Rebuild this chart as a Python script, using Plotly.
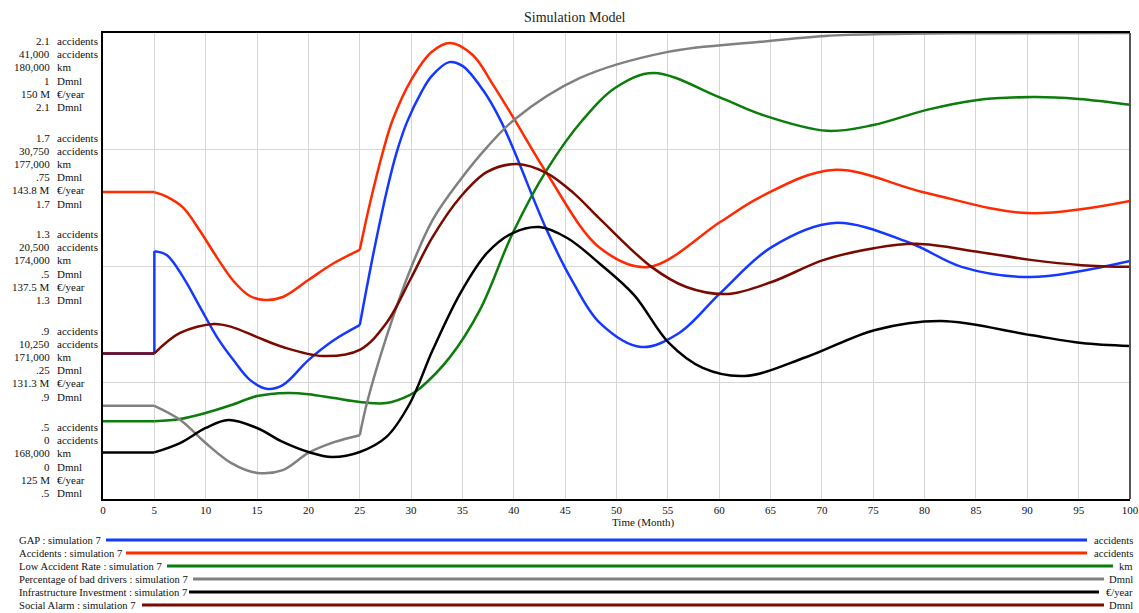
import plotly.graph_objects as go

# ---------------- data ----------------
x_ticks = list(range(0, 101, 5))

# GAP (accidents)
gap_t = [0, 5, 5, 6.2, 7.8, 9.45, 11.1, 12.7, 14.3, 16, 17.5, 20, 22.5, 25, 26.3, 27.7, 28.6, 29.6,
         31, 32, 33.7, 35, 37, 38.7, 40, 43.2, 45.8, 48.4, 52.4, 56.1, 60.1, 65.1, 71.2, 78.6, 83.6,
         90.3, 100]
gap_v = [1.0, 1.0, 1.351, 1.338, 1.262, 1.159, 1.056, 0.977, 0.909, 0.878, 0.891, 0.977, 1.046, 1.097,
         1.338, 1.568, 1.691, 1.794, 1.897, 1.952, 2.0, 1.987, 1.904, 1.801, 1.698, 1.424, 1.242,
         1.104, 1.022, 1.07, 1.207, 1.365, 1.448, 1.379, 1.297, 1.262, 1.317]

# Accidents (accidents)
acc_t = [0, 5, 6.2, 7.8, 9.45, 11.1, 12.7, 14.3, 15.8, 17.5, 20, 22.5, 25, 26, 27.3, 28.2, 30, 32,
         33.8, 36, 38, 40.1, 43.2, 48.4, 53.1, 60.1, 64, 71.1, 80.2, 90, 100]
acc_v = [27000, 27000, 26600, 25630, 23580, 21240, 19180, 17860, 17510, 17770, 19270, 20760, 21910,
         26040, 30700, 33340, 36860, 39330, 40120, 39060, 36420, 33340, 28680, 22080, 20410, 24370,
         26570, 28950, 26920, 25160, 26220]

# Low Accident Rate (km)
lar_t = [0, 5, 7.5, 10, 12.5, 15, 18, 20, 22.5, 25, 27.6, 29.9, 30.9, 33.8, 36.7, 39.9, 43.2, 46.7, 50,
         53.6, 60, 64, 70.5, 75, 80.2, 85, 90.6, 95, 100]
lar_v = [170000, 170000, 170060, 170215, 170420, 170650, 170730, 170700, 170600, 170500, 170470,
         170680, 170860, 171660, 172870, 174850, 176470, 177760, 178610, 178970, 178350, 177910,
         177480, 177630, 178020, 178270, 178350, 178300, 178150]

# Percentage of bad drivers (Dmnl)
pbd_t = [0, 5, 7.5, 10, 12.5, 15, 17.5, 20, 22.5, 25, 25.7, 27.6, 29.9, 32.1, 34.8, 37.4, 40.1, 46.4,
         54.9, 64, 70.3, 77, 85, 100]
pbd_v = [0.2, 0.2, 0.170, 0.120, 0.077, 0.056, 0.062, 0.099, 0.122, 0.137, 0.206, 0.348, 0.491, 0.599,
         0.685, 0.755, 0.815, 0.903, 0.959, 0.981, 0.9936, 0.998, 0.9994, 1.0]

# Infrastructure Investment (M €/year)
inf_t = [0, 5, 7.5, 10, 12.2, 15, 17.5, 20, 22.3, 25, 27.6, 29.9, 32.1, 34.8, 37.4, 39.9, 42.5, 45.2,
         48.4, 51.7, 55.1, 58.4, 62.5, 68.5, 75.2, 81.6, 90.3, 95.3, 100]
inf_v = [127.5, 127.5, 128.0, 128.81, 129.24, 128.81, 128.06, 127.52, 127.25, 127.52, 128.33, 130.15,
         132.99, 136.05, 138.20, 139.27, 139.59, 139.00, 137.61, 135.95, 133.37, 132.03, 131.60,
         132.62, 134.07, 134.55, 133.80, 133.37, 133.21]

# Social Alarm (Dmnl)
sa_t = [0, 5, 7.5, 10.8, 12.5, 15, 17.5, 21.4, 25, 27.6, 29.9, 32.1, 34.8, 37.4, 40.3, 43.2, 45.8, 48.4,
        53.4, 56.8, 60.8, 65.1, 70.2, 75.2, 79.2, 85.3, 90.3, 95.3, 100]
sa_v = [1.0, 1.0, 1.070, 1.101, 1.091, 1.056, 1.022, 0.991, 1.012, 1.104, 1.252, 1.400, 1.537, 1.623,
        1.650, 1.619, 1.551, 1.461, 1.297, 1.228, 1.204, 1.245, 1.321, 1.362, 1.376, 1.348, 1.321,
        1.303, 1.297]

# axis tick labels (top to bottom)
gap_ticks = ["2.1", "1.7", "1.3", ".9", ".5"]
acc_ticks = ["41,000", "30,750", "20,500", "10,250", "0"]
lar_ticks = ["180,000", "177,000", "174,000", "171,000", "168,000"]
pbd_ticks = ["1", ".75", ".5", ".25", "0"]
inf_ticks = ["150 M", "143.8 M", "137.5 M", "131.3 M", "125 M"]
sa_ticks = ["2.1", "1.7", "1.3", ".9", ".5"]

series_names = ["GAP", "Accidents", "Low Accident Rate", "Percentage of bad drivers",
                "Infrastructure Investment", "Social Alarm"]
series_units = ["accidents", "accidents", "km", "Dmnl", "€/year", "Dmnl"]
run_name = "simulation 7"

# ---------------- styling ----------------
FONT = "Liberation Serif"
colors = ["#1438ff", "#ff2a00", "#0a7d0a", "#808080", "#000000", "#7a0a00"]
ranges = [[0.5, 2.1], [0, 41000], [168000, 180000], [0, 1], [125, 150], [0.5, 2.1]]
data = [(gap_t, gap_v), (acc_t, acc_v), (lar_t, lar_v), (pbd_t, pbd_v), (inf_t, inf_v), (sa_t, sa_v)]
breaks = [[5, 25], [5, 25], [5], [5, 25], [5], [5]]
tick_sets = [gap_ticks, acc_ticks, lar_ticks, pbd_ticks, inf_ticks, sa_ticks]

W_FIG, H_FIG = 1139, 613
L, R, T, B = 103, 1130, 33, 499


def px_x(px):
    return (px - L) / (R - L)


def px_y(py):
    return (B - py) / (B - T)


fig = go.Figure()

for i, ((t, v), col, brk) in enumerate(zip(data, colors, breaks)):
    yref = "y" if i == 0 else f"y{i + 1}"
    # split into segments at kink points so the spline keeps the corners
    segs = []
    start = 0
    for j in range(1, len(t)):
        if t[j] in brk and j != len(t) - 1:
            segs.append((start, j))
            start = j
    segs.append((start, len(t) - 1))
    for (a, b) in segs:
        fig.add_trace(go.Scatter(
            x=t[a:b + 1], y=v[a:b + 1], mode="lines", yaxis=yref,
            line=dict(color=col, width=2.5, shape="spline", smoothing=1.0),
            showlegend=False, hoverinfo="skip",
            name=f"{series_names[i]} : {run_name}"))

axis_common = dict(showgrid=False, showticklabels=False, zeroline=False, fixedrange=True)
layout_axes = {}
layout_axes["yaxis"] = dict(range=ranges[0], tick0=0.5, dtick=0.4, showgrid=True,
                            gridcolor="#d6d6d6", gridwidth=1, showticklabels=False,
                            zeroline=False, showline=True, linecolor="#000", linewidth=2,
                            ticks="", automargin=False)
for i in range(1, 6):
    layout_axes[f"yaxis{i + 1}"] = dict(range=ranges[i], overlaying="y", visible=False, **axis_common)

fig.update_layout(
    width=W_FIG, height=H_FIG, autosize=False,
    margin=dict(l=L, r=W_FIG - R, t=T, b=H_FIG - B, pad=0, autoexpand=False),
    paper_bgcolor="white", plot_bgcolor="white",
    font=dict(family=FONT, size=11, color="#111"),
    xaxis=dict(range=[0, 100], tickvals=x_ticks, ticktext=[str(v) for v in x_ticks],
               showgrid=True, gridcolor="#d6d6d6", gridwidth=1, zeroline=False,
               showline=True, linecolor="#000", linewidth=2, mirror=True, ticks="",
               automargin=False,
               tickfont=dict(family=FONT, size=11, color="#111")),
    **layout_axes,
)

ann = []
# title
ann.append(dict(text="Simulation Model", x=px_x(575), y=px_y(18), xref="paper", yref="paper",
                showarrow=False, xanchor="center", yanchor="middle",
                font=dict(family=FONT, size=14, color="#222")))
# x axis title
ann.append(dict(text="Time (Month)", x=px_x(643), y=px_y(522), xref="paper", yref="paper",
                showarrow=False, xanchor="center", yanchor="middle",
                font=dict(family=FONT, size=11, color="#111")))

# stacked left tick labels
for g in range(5):
    for r in range(6):
        py = 41 + 96.5 * g + 13.2 * r
        ann.append(dict(text=tick_sets[r][g], x=px_x(52), y=px_y(py), xref="paper", yref="paper",
                        showarrow=False, xanchor="right", yanchor="middle",
                        font=dict(family=FONT, size=11, color="#111")))
        ann.append(dict(text=series_units[r], x=px_x(55), y=px_y(py), xref="paper", yref="paper",
                        showarrow=False, xanchor="left", yanchor="middle",
                        font=dict(family=FONT, size=11, color="#111")))

# custom legend
leg_rows = [540, 553, 566, 579, 592, 605]
leg_start = [106, 126, 167, 193, 189, 142]
leg_end = [1087, 1087, 1113, 1104, 1099, 1104]
shapes = []
for i in range(6):
    py = leg_rows[i]
    ann.append(dict(text=f"{series_names[i]} : {run_name}", x=px_x(17), y=px_y(py),
                    xref="paper", yref="paper", showarrow=False, xanchor="left", yanchor="middle",
                    font=dict(family=FONT, size=10.6, color="#111")))
    ann.append(dict(text=series_units[i], x=px_x(1135), y=px_y(py), xref="paper", yref="paper",
                    showarrow=False, xanchor="right", yanchor="middle",
                    font=dict(family=FONT, size=10.6, color="#111")))
    shapes.append(dict(type="line", xref="paper", yref="paper",
                       x0=px_x(leg_start[i]), x1=px_x(leg_end[i]), y0=px_y(py), y1=px_y(py),
                       line=dict(color=colors[i], width=3)))

# right border (grey in the reference)
shapes.append(dict(type="line", xref="paper", yref="paper", x0=1, x1=1, y0=0, y1=1,
                   line=dict(color="#555", width=2)))

fig.update_layout(annotations=ann, shapes=shapes)

fig.write_html(
    "out.html",
    post_script=("document.documentElement.style.overflow='hidden';"
                 "document.body.style.overflow='hidden';"
                 "document.body.style.margin='0';"),
    config={"displayModeBar": False, "responsive": False},
)
